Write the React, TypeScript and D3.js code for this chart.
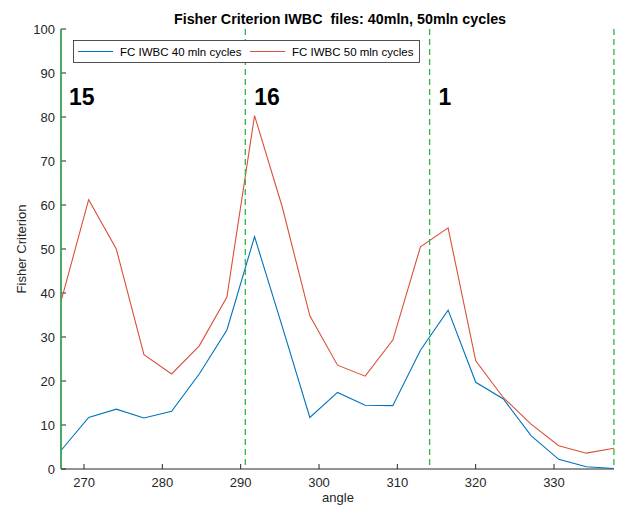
import React from 'react';
import * as d3 from 'd3';

// angles sampled every ~3.53 deg
const angleStart = 267.06;
const angleStep = 3.53;
const fc40 = [4.2, 11.7, 13.6, 11.6, 13.1, 21.6, 31.6, 52.8, 32.4, 11.7, 17.4, 14.5, 14.4, 27.0, 36.1, 19.7, 15.9, 7.6, 2.2, 0.5, 0.1];
const fc50 = [38.1, 61.2, 50.0, 26.0, 21.6, 28.0, 39.1, 80.3, 59.6, 34.8, 23.6, 21.1, 29.3, 50.5, 54.8, 24.6, 16.2, 10.2, 5.3, 3.6, 4.7];
const angles = fc40.map((_, i) => angleStart + i * angleStep);

const markerAngles = [267.06, 290.59, 314.12, 337.65];
const markerLabels = ['15', '16', '1'];
const xTicks = [270, 280, 290, 300, 310, 320, 330];
const yTicks = [0, 10, 20, 30, 40, 50, 60, 70, 80, 90, 100];
const seriesNames = ['FC IWBC 40 mln cycles', 'FC IWBC 50 mln cycles'];
const seriesColors = ['#0072BD', '#D9503A'];

const W = 622, H = 507;
const m = { left: 61, right: 8, top: 29, bottom: 38 };
const font = '"Liberation Sans", Arial, Helvetica, sans-serif';
const axisColor = '#262626';

const App = () => {
    const x = d3.scaleLinear()
        .domain([angles[0], angles[angles.length - 1]])
        .range([m.left, W - m.right]);
    const y = d3.scaleLinear()
        .domain([0, 100])
        .range([H - m.bottom, m.top]);

    const line = d3.line<number>()
        .x((_, i) => x(angles[i]))
        .y(d => y(d));

    const bottom = H - m.bottom;

    return (
        <svg width={W} height={H} style={{ position: 'absolute', left: 0, top: 0, background: '#fff' }}
             fontFamily={font}>
            <text x={340} y={24} textAnchor="middle" fontSize={14.3} fontWeight="bold"
                  style={{ whiteSpace: 'pre' }} fill="#000">
                {'Fisher Criterion IWBC  files: 40mln, 50mln cycles'}
            </text>

            {/* axes */}
            <line x1={m.left} x2={W - m.right} y1={bottom} y2={bottom} stroke={axisColor} strokeWidth={1} />
            <line x1={m.left} x2={m.left} y1={m.top} y2={bottom} stroke={axisColor} strokeWidth={1} />
            {xTicks.map(t => (
                <g key={t}>
                    <line x1={x(t)} x2={x(t)} y1={bottom} y2={bottom - 5} stroke={axisColor} />
                    <text x={x(t)} y={bottom + 18} textAnchor="middle" fontSize={13} fill={axisColor}>{t}</text>
                </g>
            ))}
            {yTicks.map(t => (
                <g key={t}>
                    <line x1={m.left} x2={m.left + 5} y1={y(t)} y2={y(t)} stroke={axisColor} />
                    <text x={m.left - 6} y={y(t) + 4.5} textAnchor="end" fontSize={13} fill={axisColor}>{t}</text>
                </g>
            ))}
            <text x={338} y={502} textAnchor="middle" fontSize={13} fill={axisColor}>angle</text>
            <text transform={`translate(26 ${y(50)}) rotate(-90)`} textAnchor="middle" fontSize={13}
                  fill={axisColor}>Fisher Criterion</text>

            {/* series */}
            {[fc40, fc50].map((s, i) => (
                <path key={i} d={line(s) || ''} fill="none" stroke={seriesColors[i]} strokeWidth={1.1} />
            ))}

            {/* cycle boundaries */}
            {markerAngles.map((a, i) => (
                <line key={i} x1={x(a)} x2={x(a)} y1={m.top} y2={bottom} stroke="#2DB54B"
                      strokeWidth={1.3} strokeDasharray={i === 0 ? undefined : '6,4'} />
            ))}
            {markerLabels.map((l, i) => (
                <text key={l} x={x(markerAngles[i]) + (i === 0 ? 8 : 9)} y={105} fontSize={23}
                      fontWeight="bold" fill="#000">{l}</text>
            ))}

            {/* legend */}
            <rect x={73.5} y={40.5} width={346} height={22} fill="#fff" stroke="#262626" strokeWidth={0.8} />
            {seriesNames.map((n, i) => (
                <g key={n}>
                    <line x1={78 + i * 172} x2={113 + i * 172} y1={51.5} y2={51.5}
                          stroke={seriesColors[i]} strokeWidth={1} />
                    <text x={120 + i * 172} y={56} fontSize={11.5} fill="#000">{n}</text>
                </g>
            ))}
        </svg>
    );
};

export default App;
